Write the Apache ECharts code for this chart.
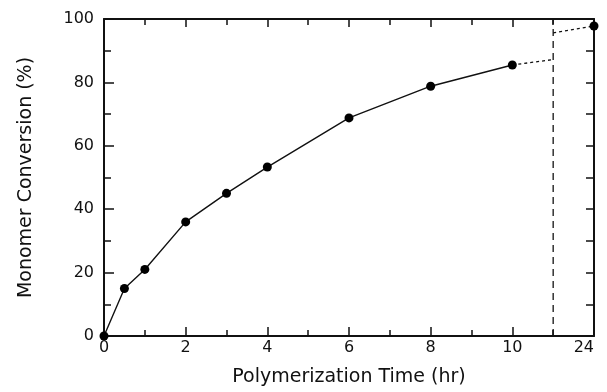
<!DOCTYPE html>
<html>
<head>
<meta charset="utf-8">
<script src="https://cdn.jsdelivr.net/npm/echarts@6/dist/echarts.min.js"></script>
<style>
  html, body { margin: 0; padding: 0; background: #fff; }
  #chart { width: 607px; height: 392px; }
</style>
</head>
<body>
<div id="chart"></div>
<script>
// measured data (hours, % conversion)
const hours = [0, 0.5, 1, 2, 3, 4, 6, 8, 10];
const conversion = [0, 15, 21, 36, 45, 53.3, 68.8, 78.8, 85.5];
// extrapolated dashed pieces either side of the axis break
const breakHour = 11;
const beforeBreak = 87.2;
const afterBreak = 95.6;
const lastHour = 24;
const lastConversion = 97.8;
// the break squeezes 11..24 hr into one axis unit
const lastPos = 12;
const xTickLabels = { 0: '0', 2: '2', 4: '4', 6: '6', 8: '8', 10: '10', 12: String(lastHour) };

const font = '"DejaVu Sans", Verdana, sans-serif';
const axisLine = { show: true, onZero: false, lineStyle: { color: '#111', width: 2 } };
const tickStyle = { color: '#111', width: 1.5 };

const mainData = hours.map((h, i) => [h, conversion[i]]);
const dashA = [[hours[hours.length - 1], conversion[conversion.length - 1]], [breakHour, beforeBreak]];
const dashB = [{ value: [breakHour, afterBreak], symbol: 'none' }, { value: [lastPos, lastConversion] }];
const breakLine = [[breakHour, 0], [breakHour, 100]];

const chart = echarts.init(document.getElementById('chart'), null, { renderer: 'canvas' });
chart.setOption({
  animation: false,
  backgroundColor: '#fff',
  textStyle: { fontFamily: font },
  grid: { left: 104, right: 13, top: 19, bottom: 55 },
  xAxis: [
    {
      type: 'value', min: 0, max: lastPos, interval: 2,
      axisLine: axisLine,
      axisTick: { inside: true, length: 9, lineStyle: tickStyle },
      minorTick: { show: true, splitNumber: 2, length: 6, lineStyle: tickStyle },
      splitLine: { show: false },
      axisLabel: {
        color: '#111', fontSize: 16, margin: 4, alignMaxLabel: 'right',
        formatter: (v) => xTickLabels[v] !== undefined ? xTickLabels[v] : ''
      },
      name: 'Polymerization Time (hr)', nameLocation: 'middle', nameGap: 32,
      nameTextStyle: { color: '#111', fontSize: 19, fontFamily: font }
    },
    {
      type: 'value', min: 0, max: lastPos, interval: 2, position: 'top',
      axisLine: axisLine,
      axisTick: { inside: true, length: 8, lineStyle: tickStyle },
      minorTick: { show: true, splitNumber: 2, length: 6, lineStyle: tickStyle },
      splitLine: { show: false },
      axisLabel: { show: false }
    }
  ],
  yAxis: [
    {
      type: 'value', min: 0, max: 100, interval: 20,
      axisLine: axisLine,
      axisTick: { inside: true, length: 10, lineStyle: tickStyle },
      minorTick: { show: true, splitNumber: 2, length: 7, lineStyle: tickStyle },
      splitLine: { show: false },
      axisLabel: { color: '#111', fontSize: 16, margin: 10 },
      name: 'Monomer Conversion (%)', nameLocation: 'middle', nameGap: 68,
      nameTextStyle: { color: '#111', fontSize: 19, fontFamily: font }
    },
    {
      type: 'value', min: 0, max: 100, interval: 20, position: 'right',
      axisLine: axisLine,
      axisTick: { inside: true, length: 8, lineStyle: tickStyle },
      minorTick: { show: true, splitNumber: 2, length: 8, lineStyle: tickStyle },
      splitLine: { show: false },
      axisLabel: { show: false }
    }
  ],
  series: [
    {
      type: 'line', data: breakLine, symbol: 'none',
      lineStyle: { color: '#111', width: 1.3, type: [7, 5] }, z: 1
    },
    {
      type: 'line', data: mainData, symbol: 'circle', symbolSize: 9,
      itemStyle: { color: '#000' },
      lineStyle: { color: '#111', width: 1.4 }, z: 3
    },
    {
      type: 'line', data: dashA, symbol: 'none',
      lineStyle: { color: '#111', width: 1.3, type: [3, 3] }, z: 2
    },
    {
      type: 'line', data: dashB, symbol: 'circle', symbolSize: 9,
      itemStyle: { color: '#000' },
      lineStyle: { color: '#111', width: 1.3, type: [3, 3] }, z: 2
    }
  ]
});
</script>
</body>
</html>
